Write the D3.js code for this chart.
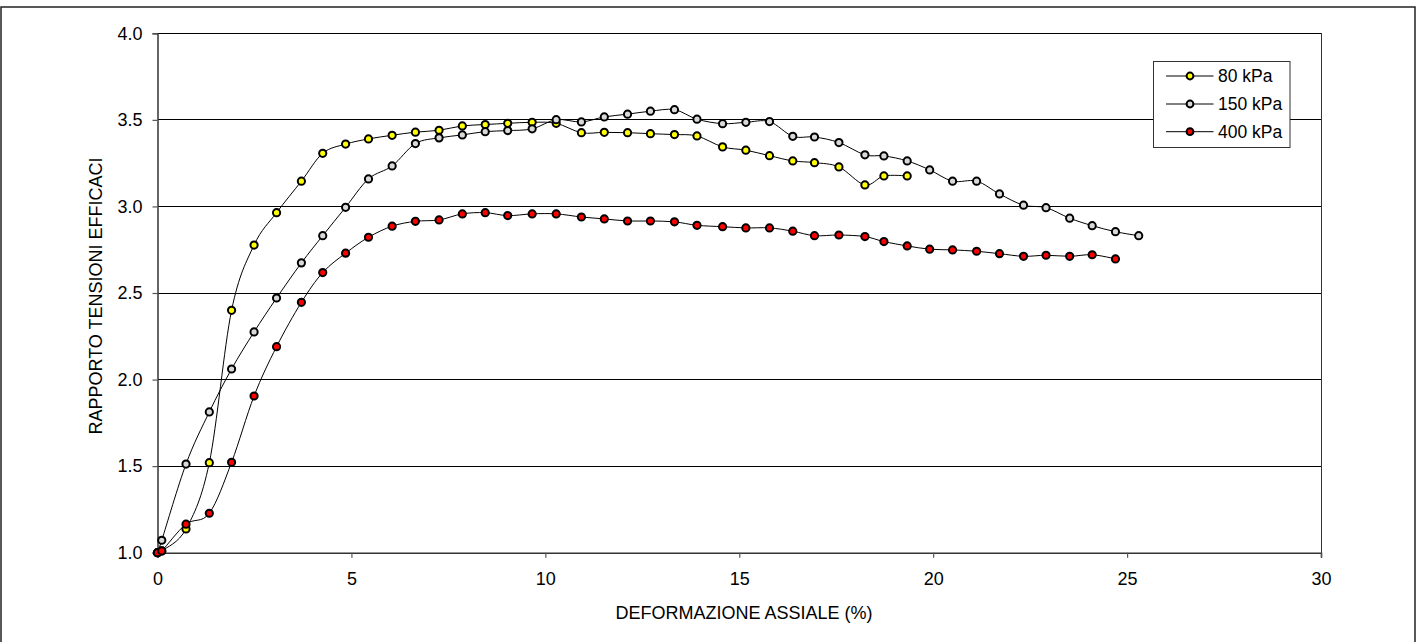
<!DOCTYPE html>
<html>
<head>
<meta charset="utf-8">
<script src="https://cdn.jsdelivr.net/npm/d3@7"></script>
<style>
  html, body { margin: 0; padding: 0; background: #fff; }
  svg { display: block; font-family: "Liberation Sans", Arial, sans-serif; }
</style>
</head>
<body>
<svg id="chart" width="1421" height="642"></svg>
<script>
// ---- data ----
const seriesNames = ["80 kPa", "150 kPa", "400 kPa"];
const seriesColors = ["#ffff00", "#d9d9d9", "#ff0000"];

const x80 = [0, 0.11, 0.735, 1.336, 1.91, 2.49, 3.07, 3.71, 4.26, 4.85, 5.44, 6.05, 6.65, 7.26, 7.86, 8.45, 9.03, 9.66, 10.28, 10.93, 11.52, 12.12, 12.71, 13.33, 13.91, 14.57, 15.17, 15.78, 16.38, 16.94, 17.57, 18.24, 18.73, 19.33];
const y80 = [1.00, 1.01, 1.137, 1.52, 2.40, 2.777, 2.964, 3.146, 3.307, 3.36, 3.39, 3.411, 3.429, 3.44, 3.465, 3.473, 3.48, 3.486, 3.48, 3.426, 3.428, 3.426, 3.42, 3.415, 3.407, 3.344, 3.325, 3.293, 3.263, 3.253, 3.228, 3.124, 3.176, 3.176];

const x150 = [0, 0.11, 0.735, 1.336, 1.91, 2.49, 3.07, 3.71, 4.26, 4.85, 5.44, 6.05, 6.65, 7.26, 7.86, 8.45, 9.03, 9.66, 10.28, 10.93, 11.52, 12.12, 12.71, 13.33, 13.91, 14.57, 15.17, 15.78, 16.38, 16.94, 17.57, 18.24, 18.73, 19.33, 19.91, 20.5, 21.12, 21.71, 22.33, 22.91, 23.52, 24.1, 24.7, 25.3];
const y150 = [1.00, 1.072, 1.512, 1.813, 2.061, 2.275, 2.471, 2.674, 2.831, 2.995, 3.159, 3.234, 3.363, 3.396, 3.413, 3.432, 3.438, 3.448, 3.501, 3.488, 3.517, 3.533, 3.55, 3.559, 3.504, 3.478, 3.486, 3.49, 3.405, 3.401, 3.369, 3.298, 3.292, 3.263, 3.211, 3.146, 3.146, 3.072, 3.007, 2.993, 2.932, 2.889, 2.854, 2.831];

const x400 = [0, 0.11, 0.735, 1.336, 1.91, 2.49, 3.07, 3.71, 4.26, 4.85, 5.44, 6.05, 6.65, 7.26, 7.86, 8.45, 9.03, 9.66, 10.28, 10.93, 11.52, 12.12, 12.71, 13.33, 13.91, 14.57, 15.17, 15.78, 16.38, 16.94, 17.57, 18.24, 18.73, 19.33, 19.91, 20.5, 21.12, 21.71, 22.33, 22.91, 23.52, 24.1, 24.7];
const y400 = [1.00, 1.01, 1.165, 1.228, 1.522, 1.905, 2.19, 2.446, 2.618, 2.73, 2.822, 2.886, 2.914, 2.922, 2.957, 2.964, 2.947, 2.957, 2.957, 2.939, 2.928, 2.916, 2.916, 2.911, 2.891, 2.883, 2.876, 2.876, 2.857, 2.831, 2.835, 2.826, 2.797, 2.772, 2.753, 2.749, 2.741, 2.727, 2.712, 2.718, 2.712, 2.721, 2.697];

const xTicks = [0, 5, 10, 15, 20, 25, 30];
const yTicks = [1.0, 1.5, 2.0, 2.5, 3.0, 3.5, 4.0];
const xTitle = "DEFORMAZIONE ASSIALE (%)";
const yTitle = "RAPPORTO TENSIONI EFFICACI";

// ---- layout ----
const svg = d3.select("#chart");
const plot = { left: 157.5, right: 1321, top: 33.3, bottom: 552.7 };

const x = d3.scaleLinear().domain([0, 30]).range([plot.left, plot.right]);
const y = d3.scaleLinear().domain([1, 4]).range([plot.bottom, plot.top]);

// outer frame
svg.append("rect")
  .attr("x", 1).attr("y", 7).attr("width", 1414).attr("height", 650)
  .attr("fill", "#fff").attr("stroke", "#222").attr("stroke-width", 1.5);

// gridlines
svg.append("g").selectAll("line").data(yTicks.filter(d => d > 1)).join("line")
  .attr("x1", plot.left).attr("x2", plot.right)
  .attr("y1", d => y(d)).attr("y2", d => y(d))
  .attr("stroke", "#000").attr("stroke-width", 1)
  .attr("shape-rendering", "crispEdges");

// right border of plot
svg.append("line")
  .attr("x1", plot.right).attr("x2", plot.right)
  .attr("y1", plot.top).attr("y2", plot.bottom)
  .attr("stroke", "#333").attr("stroke-width", 1)
  .attr("shape-rendering", "crispEdges");

// axes
const xAxis = svg.append("g")
  .attr("transform", `translate(0,${plot.bottom})`)
  .call(d3.axisBottom(x).tickValues(xTicks).tickFormat(d3.format("d")).tickSize(5).tickPadding(15));
const yAxis = svg.append("g")
  .attr("transform", `translate(${plot.left},0)`)
  .call(d3.axisLeft(y).tickValues(yTicks).tickFormat(d3.format(".1f")).tickSize(5).tickPadding(10));

[xAxis, yAxis].forEach(a => {
  a.select(".domain").attr("stroke", "#333").attr("stroke-width", 1.5);
  a.selectAll(".tick line").attr("stroke", "#555").attr("stroke-width", 1.2);
  a.selectAll("text").attr("font-size", 18).attr("fill", "#000")
    .attr("font-family", "'Liberation Sans', Arial, sans-serif");
});

// titles
svg.append("text")
  .attr("x", 744).attr("y", 619)
  .attr("text-anchor", "middle").attr("font-size", 18).attr("fill", "#000")
  .text(xTitle);
svg.append("text")
  .attr("transform", `translate(101.5,${(plot.top + plot.bottom) / 2 + 3}) rotate(-90)`)
  .attr("text-anchor", "middle").attr("font-size", 18).attr("fill", "#000")
  .text(yTitle);

// series
const series = [
  { name: seriesNames[0], color: seriesColors[0], pts: x80.map((v, i) => [v, y80[i]]) },
  { name: seriesNames[1], color: seriesColors[1], pts: x150.map((v, i) => [v, y150[i]]) },
  { name: seriesNames[2], color: seriesColors[2], pts: x400.map((v, i) => [v, y400[i]]) }
];

const line = d3.line()
  .x(d => x(d[0])).y(d => y(d[1]))
  .curve(d3.curveCardinal.tension(0));

const lineG = svg.append("g");
series.forEach(s => {
  lineG.append("path")
    .attr("d", line(s.pts))
    .attr("fill", "none").attr("stroke", "#000").attr("stroke-width", 1);
});
series.forEach(s => {
  svg.append("g").selectAll("circle").data(s.pts).join("circle")
    .attr("cx", d => x(d[0])).attr("cy", d => y(d[1]))
    .attr("r", 3.6)
    .attr("fill", s.color).attr("stroke", "#000").attr("stroke-width", 2);
});

// legend
const lg = svg.append("g");
lg.append("rect")
  .attr("x", 1153.5).attr("y", 61.5).attr("width", 136.5).attr("height", 86)
  .attr("fill", "#fff").attr("stroke", "#333").attr("stroke-width", 1);
const rowY = [76, 104, 131.7];
series.forEach((s, i) => {
  lg.append("line")
    .attr("x1", 1166).attr("x2", 1213.5).attr("y1", rowY[i]).attr("y2", rowY[i])
    .attr("stroke", "#000").attr("stroke-width", 1);
  lg.append("circle")
    .attr("cx", 1190).attr("cy", rowY[i]).attr("r", 3.4)
    .attr("fill", s.color).attr("stroke", "#000").attr("stroke-width", 2);
  lg.append("text")
    .attr("x", 1218).attr("y", rowY[i]).attr("dy", "0.36em")
    .attr("font-size", 17.5).attr("fill", "#000")
    .text(s.name);
});
</script>
</body>
</html>
